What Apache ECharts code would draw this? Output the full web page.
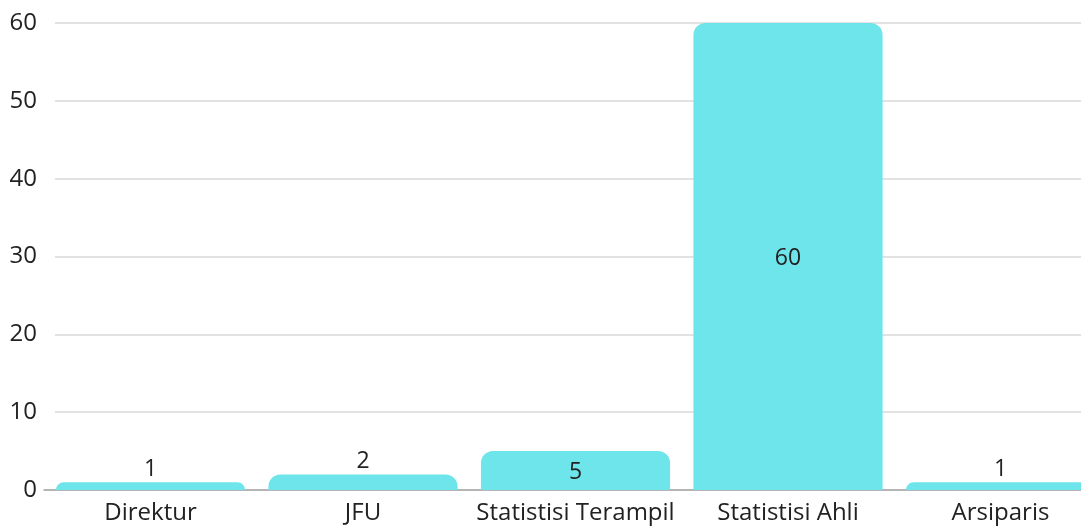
<!DOCTYPE html>
<html><head><meta charset="utf-8">
<script src="https://cdn.jsdelivr.net/npm/echarts@6/dist/echarts.min.js"></script>
<style>html,body{margin:0;padding:0;background:#fff}#c{width:1081px;height:526px}</style>
</head><body><div id="c"></div>
<script>
const categories = ["Direktur", "JFU", "Statistisi Terampil", "Statistisi Ahli", "Arsiparis"];
const values = [1, 2, 5, 60, 1];
const labelPositions = ["top", "top", "inside", "inside", "top"];
const yTicks = { min: 0, max: 60, interval: 10 };

const chart = echarts.init(document.getElementById('c'));
const font = "'Open Sans', 'Noto Sans', sans-serif";
chart.setOption({
  animation: false,
  grid: [
    { left: 55, right: 0, top: 23, bottom: 36, outerBoundsMode: 'none', containLabel: false },
    { left: 44.25, width: 1062.5, top: 23, bottom: 36, outerBoundsMode: 'none', containLabel: false }
  ],
  xAxis: [
    { gridIndex: 0, type: 'value', show: false },
    { gridIndex: 1, type: 'category', data: categories,
      axisLine: { lineStyle: { color: '#b5b5b5', width: 2 } },
      axisTick: { show: false },
      axisLabel: { color: '#222', fontSize: 24, fontFamily: font, margin: 11, interval: 0, hideOverlap: false } }
  ],
  yAxis: [
    { gridIndex: 0, type: 'value', min: yTicks.min, max: yTicks.max, interval: yTicks.interval,
      axisLine: { show: false }, axisTick: { show: false },
      splitLine: { lineStyle: { color: '#d9d9d9', width: 1.5 } },
      axisLabel: { color: '#222', fontSize: 24, fontFamily: font, margin: 18 } },
    { gridIndex: 1, type: 'value', min: yTicks.min, max: yTicks.max, interval: yTicks.interval, show: false }
  ],
  series: [{
    type: 'bar', xAxisIndex: 1, yAxisIndex: 1,
    barCategoryGap: '11%',
    data: values.map((v, i) => ({ value: v, label: { position: labelPositions[i] } })),
    itemStyle: { color: '#6de5ea', borderRadius: [12, 12, 0, 0] },
    label: { show: true, color: '#222', fontSize: 23, fontFamily: font, distance: 3, offset: [0, 2] }
  }]
});
</script></body></html>
